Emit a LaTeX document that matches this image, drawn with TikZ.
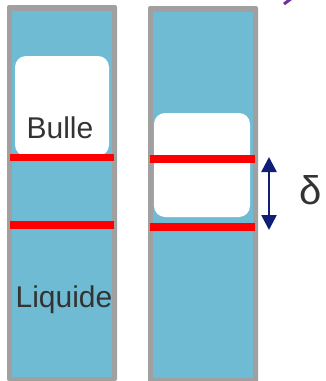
\documentclass[tikz,border=0pt]{standalone}
\usepackage{fontspec}
\setmainfont{Liberation Sans}
\usetikzlibrary{arrows.meta}
\definecolor{liqblue}{HTML}{6FBBD3}
\definecolor{wallgray}{HTML}{A0A0A0}
\definecolor{markred}{HTML}{FF0000}
\definecolor{navy}{HTML}{0F1F78}
\definecolor{txtgray}{HTML}{333333}
\definecolor{violet}{HTML}{7030A0}
\tikzset{
  wall/.style={fill=wallgray,draw=none,rounded corners=2pt},
  liquid/.style={fill=liqblue,draw=none},
  bubble/.style={fill=white,draw=none,rounded corners=11pt},
  redline/.style={draw=none,fill=markred},
  label/.style={text=txtgray,font=\fontsize{30}{30}\selectfont,inner sep=0pt,anchor=base},
  gap/.style={navy,line width=2.6pt,{Triangle[width=15pt,length=15pt]}-{Triangle[width=15pt,length=15pt]}}
}
\begin{document}
\begin{tikzpicture}[x=1pt,y=-1pt]
\useasboundingbox (0,0) rectangle (326,381);
% tube de gauche
\fill[wall] (7,5) rectangle (117,381);
\fill[liquid] (12,11) rectangle (112,377);
\fill[bubble] (15,56) rectangle (109,156);
\fill[redline] (10,154) rectangle (114,161);
\fill[redline] (10,221) rectangle (114,228.5);
% tube de droite
\fill[wall] (148,6) rectangle (258,385);
\fill[liquid] (153,12) rectangle (253,378);
\fill[bubble] (154,113) rectangle (250,217);
\fill[redline] (150,155) rectangle (255,163);
\fill[redline] (150,223) rectangle (255,231);
% textes
\node[label] (bulle) at (60,138) {Bulle};
\node[label] (liquide) at (64,307) {Liquide};
\node[label,font=\fontsize{40}{40}\selectfont] (delta) at (311,204) {δ};
% epaisseur
\coordinate (dtop) at (269,157);
\coordinate (dbot) at (269,230);
\draw[gap] (dtop) -- (dbot);
% fleche violette (coupee)
\clip (0,0) rectangle (326,381);
\draw[violet,line width=3pt] (284,4) -- (292,-2);
\end{tikzpicture}
\end{document}
